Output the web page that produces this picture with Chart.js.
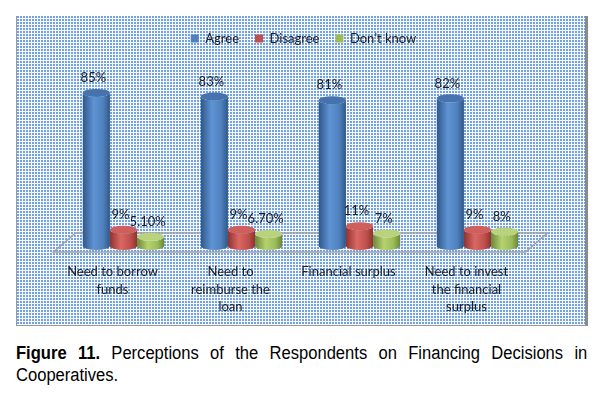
<!DOCTYPE html>
<html>
<head>
<meta charset="utf-8">
<script src="https://cdn.jsdelivr.net/npm/chart.js@4.4.0/dist/chart.umd.min.js"></script>
<style>
  body { margin: 0; background: #fff; width: 601px; height: 397px; position: relative; overflow: hidden; }
  #frame { position: absolute; left: 16px; top: 16px; width: 568px; height: 309px;
           border-left: 1px solid #9a9a9a; border-bottom: 1px solid #9a9a9a; border-right: 3px solid #8a8a8a; }
  #caption { position: absolute; left: 16px; top: 342px;
             font-family: "Liberation Sans", Arial, sans-serif;
             font-size: 18px; line-height: 22px; color: #000; }
  #caption div { width: 621px; transform: scaleX(0.92); transform-origin: 0 0; white-space: nowrap; }
  #caption .l1 { text-align: justify; text-align-last: justify; white-space: normal; }
</style>
</head>
<body>
<div id="frame"><canvas id="myChart" width="568" height="309"></canvas></div>
<div id="caption">
  <div class="l1"><b>Figure 11.</b> Perceptions of the Respondents on Financing Decisions in</div>
  <div>Cooperatives.</div>
</div>
<script>
const categories = [
    ['Need to borrow', 'funds'],
    ['Need to', 'reimburse the', 'loan'],
    'Financial surplus',
    ['Need to invest', 'the financial', 'surplus']
];
const seriesNames = ['Agree', 'Disagree', 'Don\u2019t know'];
const agree = [85, 83, 81, 82];
const disagree = [9, 9, 11, 9];
const dontKnow = [5.1, 6.7, 7, 8];

const fontFamily = 'Lato, "Open Sans", sans-serif';
const palette = [
    { base: '#4f81bd', dark: '#2f5789', light: '#5f93d4', cap: '#4673ad' },
    { base: '#c0504d', dark: '#8e3330', light: '#da6763', cap: '#d05e5a' },
    { base: '#9bbb59', dark: '#6c8738', light: '#b6d270', cap: '#b9d37c' }
];
const depthX = 22, depthY = 19;   // floor depth
const barDX = 11, barDY = 6;      // bar placement inside the floor
const legendShift = 14;

function fmt(v) {
    return Number.isInteger(v) ? v + '%' : v.toFixed(2) + '%';
}

function makePattern(ctx) {
    const c = document.createElement('canvas');
    c.width = 3; c.height = 3;
    const p = c.getContext('2d');
    p.fillStyle = '#f6f9fe';
    p.fillRect(0, 0, 3, 3);
    p.fillStyle = '#74a1e2';
    p.fillRect(0, 0, 2, 2);
    return ctx.createPattern(c, 'repeat');
}

function cylinder(ctx, cx, top, base, w, col) {
    const rx = w / 2, ry = 4;
    const l = cx - rx, r = cx + rx;
    const g = ctx.createLinearGradient(l, 0, r, 0);
    g.addColorStop(0, col.dark);
    g.addColorStop(0.4, col.light);
    g.addColorStop(0.75, col.base);
    g.addColorStop(1, col.dark);
    ctx.fillStyle = g;
    ctx.beginPath();
    ctx.moveTo(l, top);
    ctx.lineTo(l, base);
    ctx.ellipse(cx, base, rx, ry, 0, Math.PI, 0, true);
    ctx.lineTo(r, top);
    ctx.ellipse(cx, top, rx, ry, 0, 0, Math.PI, false);
    ctx.closePath();
    ctx.fill();
    ctx.fillStyle = col.cap;
    ctx.beginPath();
    ctx.ellipse(cx, top, rx, ry, 0, 0, Math.PI * 2);
    ctx.fill();
}

const background = {
    id: 'background',
    beforeDraw(chart) {
        // legend sits a little right of centre in the original
        if (chart.legend && !chart.legend._shifted) {
            chart.legend.left += legendShift;
            chart.legend.right += legendShift;
            chart.legend._shifted = true;
        }
        const ctx = chart.ctx;
        ctx.save();
        ctx.fillStyle = makePattern(ctx);
        ctx.fillRect(0, 0, chart.width, chart.height);
        ctx.restore();
    }
};

const cylinders = {
    id: 'cylinders',
    beforeDatasetsDraw(chart) {
        const ctx = chart.ctx;
        const a = chart.chartArea;
        ctx.save();
        // floor
        ctx.strokeStyle = '#a3a3a3';
        ctx.lineWidth = 1.5;
        ctx.beginPath();
        ctx.moveTo(a.left, a.bottom);
        ctx.lineTo(a.right, a.bottom);
        ctx.lineTo(a.right + depthX, a.bottom - depthY);
        ctx.lineTo(a.left + depthX, a.bottom - depthY);
        ctx.closePath();
        ctx.stroke();

        const metas = chart.data.datasets.map((d, i) => chart.getDatasetMeta(i));
        for (let j = 0; j < categories.length; j++) {
            metas.forEach((meta, i) => {
                const bar = meta.data[j];
                cylinder(ctx, bar.x + barDX, bar.y - barDY, bar.base - barDY, bar.width, palette[i]);
            });
        }
        ctx.font = '13px ' + fontFamily;
        ctx.fillStyle = '#1e1e1e';
        ctx.textAlign = 'center';
        ctx.textBaseline = 'middle';
        metas.forEach((meta, i) => {
            const vals = chart.data.datasets[i].data;
            meta.data.forEach((bar, j) => {
                ctx.fillText(fmt(vals[j]), bar.x + barDX - 3, bar.y - barDY - 15);
            });
        });
        ctx.restore();
        return false;
    }
};

function draw() {
    const ctx = document.getElementById('myChart').getContext('2d');

    const data = {
        labels: categories,
        datasets: [agree, disagree, dontKnow].map((vals, i) => ({
            label: seriesNames[i],
            data: vals,
            backgroundColor: palette[i].base,
            borderWidth: 0,
            categoryPercentage: 0.69,
            barPercentage: 1
        }))
    };

    const config = {
        type: 'bar',
        data: data,
        options: {
            responsive: false,
            animation: false,
            layout: { padding: { left: 36.5, right: 59.5, top: 0, bottom: 0 } },
            plugins: {
                legend: {
                    position: 'top',
                    labels: {
                        boxWidth: 8,
                        boxHeight: 8,
                        padding: 16,
                        color: '#1e1e1e',
                        font: { family: fontFamily, size: 13 }
                    }
                },
                tooltip: { enabled: false }
            },
            scales: {
                x: {
                    grid: { display: false, drawTicks: false },
                    border: { display: false },
                    ticks: {
                        padding: 11,
                        maxRotation: 0,
                        autoSkip: false,
                        color: '#1e1e1e',
                        font: { family: fontFamily, size: 13, lineHeight: 1.35 }
                    },
                    afterFit(scale) { scale.height = 73; }
                },
                y: {
                    display: false,
                    min: 0,
                    max: 109.4
                }
            }
        },
        plugins: [background, cylinders]
    };

    new Chart(ctx, config);
}

document.fonts.load('13px Lato').then(draw).catch(draw);
</script>
</body>
</html>
